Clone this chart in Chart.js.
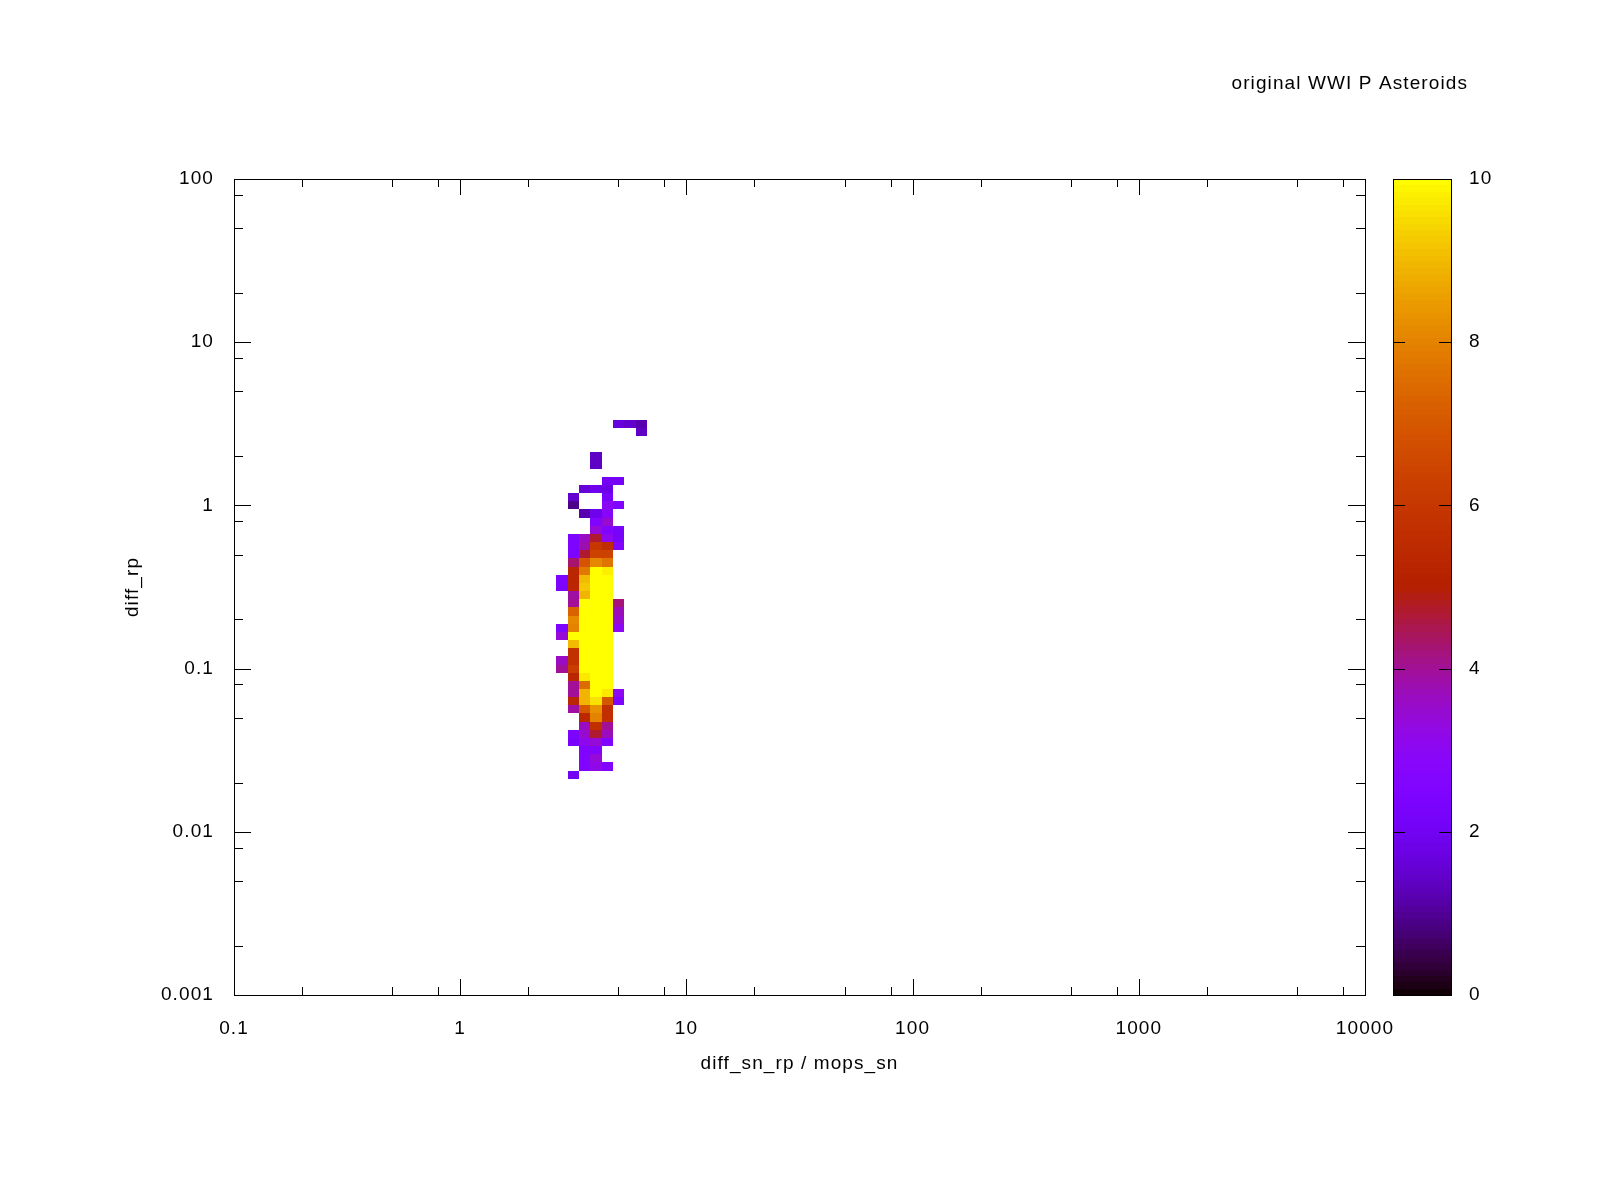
<!DOCTYPE html>
<html>
<head>
<meta charset="utf-8">
<script src="https://cdn.jsdelivr.net/npm/chart.js@4.4.0/dist/chart.umd.min.js"></script>
<style>
  html, body { margin:0; padding:0; background:#fff; }
  #wrap { position:relative; width:1600px; height:1200px; }
  #main { position:absolute; left:0; top:0; }
  #cbar { position:absolute; left:1380px; top:0; }
</style>
</head>
<body>
<div id="wrap">
  <canvas id="main" width="1600" height="1200"></canvas>
  <canvas id="cbar" width="220" height="1200"></canvas>
</div>
<script>
// bin centres, log10 of the value
const xBinLog = [0.45, 0.50, 0.55, 0.60, 0.65, 0.70, 0.75, 0.80];
const yBinLog = [0.50, 0.45, 0.40, 0.35, 0.30, 0.25, 0.20, 0.15, 0.10, 0.05, 0.00,
  -0.05, -0.10, -0.15, -0.20, -0.25, -0.30, -0.35, -0.40, -0.45, -0.50,
  -0.55, -0.60, -0.65, -0.70, -0.75, -0.80, -0.85, -0.90, -0.95, -1.00,
  -1.05, -1.10, -1.15, -1.20, -1.25, -1.30, -1.35, -1.40, -1.45, -1.50,
  -1.55, -1.60, -1.65];

const _ = null;
// one row per yBinLog entry, one column per xBinLog entry
const counts = [
  [_, _, _, _, _, 1.7, 1.5, 1.2],
  [_, _, _, _, _, _, _, 1.4],
  [_, _, _, _, _, _, _, _],
  [_, _, _, _, _, _, _, _],
  [_, _, _, 1.4, _, _, _, _],
  [_, _, _, 1.4, _, _, _, _],
  [_, _, _, _, _, _, _, _],
  [_, _, _, _, 2.1, 2.1, _, _],
  [_, _, 1.6, 1.9, 1.8, _, _, _],
  [_, 1.5, _, _, 2.2, _, _, _],
  [_, 0.9, _, _, 2.9, 2.5, _, _],
  [_, _, 1.2, 1.9, 2.8, _, _, _],
  [_, _, _, 2.5, 3.5, _, _, _],
  [_, _, _, 3.4, 2.6, 2.2, _, _],
  [_, 2.4, 3.6, 4.7, 3.1, 2.2, _, _],
  [_, 2.4, 3.8, 6.0, 5.6, 2.6, _, _],
  [_, 2.4, 4.7, 6.4, 6.4, _, _, _],
  [_, 4.3, 6.9, 8.1, 7.7, _, _, _],
  [_, 5.3, 7.8, 10, 9.8, _, _, _],
  [2.4, 5.3, 9.0, 10, 10, _, _, _],
  [2.4, 5.3, 9.2, 10, 10, _, _, _],
  [_, 3.9, 8.9, 10, 10, _, _, _],
  [_, 4.0, 10, 10, 10, 4.2, _, _],
  [_, 7.3, 10, 10, 10, 3.7, _, _],
  [_, 8.1, 10, 10, 10, 3.5, _, _],
  [2.4, 8.0, 10, 10, 10, 3.0, _, _],
  [3.4, 10, 10, 10, 10, _, _, _],
  [_, 9.0, 10, 10, 10, _, _, _],
  [_, 5.8, 10, 10, 10, _, _, _],
  [3.6, 5.8, 10, 10, 10, _, _, _],
  [4.0, 6.2, 10, 10, 10, _, _, _],
  [_, 5.3, 9.7, 10, 10, _, _, _],
  [_, 4.0, 7.5, 10, 10, _, _, _],
  [_, 4.0, 8.9, 10, 9.7, 3.0, _, _],
  [_, 5.3, 8.9, 9.6, 7.0, 2.4, _, _],
  [_, 3.9, 7.0, 8.3, 5.7, _, _, _],
  [_, _, 5.4, 8.0, 5.7, _, _, _],
  [_, _, 3.6, 5.7, 4.0, _, _, _],
  [_, 2.4, 3.5, 4.7, 3.7, _, _, _],
  [_, 2.2, 3.1, 3.4, 2.6, _, _, _],
  [_, _, 2.5, 2.6, _, _, _, _],
  [_, _, 2.5, 3.4, _, _, _, _],
  [_, _, 2.5, 3.2, 2.5, _, _, _],
  [_, 2.0, _, _, _, _, _, _]
];

const xTicks = [0.1, 1, 10, 100, 1000, 10000];
const yTicks = [0.001, 0.01, 0.1, 1, 10, 100];
const minorMult = [2, 5, 8];
const cbTicks = [0, 2, 4, 6, 8, 10];

const BIN_HALF = 0.025;   // half bin width in decades
const FONT = { family: '"Liberation Sans", Arial, sans-serif', size: 19 };
Chart.defaults.color = '#000';
Chart.defaults.font = FONT;

// gnuplot default pm3d palette (rgbformulae 7,5,15)
function palette(v) {
  const t = Math.max(0, Math.min(1, v / 10));
  const r = Math.sqrt(t), g = t * t * t, b = Math.max(0, Math.sin(2 * Math.PI * t));
  return `rgb(${Math.round(r * 255)},${Math.round(g * 255)},${Math.round(Math.min(1, b) * 255)})`;
}

const cells = [];
yBinLog.forEach((ly, r) => {
  counts[r].forEach((v, c) => {
    if (v !== null) cells.push({ x: Math.pow(10, xBinLog[c]), y: Math.pow(10, ly), v });
  });
});

// gnuplot's text is set a little wider than the plain font
const spacingPlugin = {
  id: 'spacing',
  beforeDraw(chart) { chart.ctx.letterSpacing = '1.1px'; }
};

const heatPlugin = {
  id: 'heat',
  beforeDatasetsDraw(chart) {
    const { ctx, chartArea: a, scales: { x, y } } = chart;
    const k = Math.pow(10, BIN_HALF);
    ctx.save();
    ctx.beginPath(); ctx.rect(a.left, a.top, a.right - a.left, a.bottom - a.top); ctx.clip();
    chart.data.datasets[0].data.forEach(p => {
      const x0 = Math.round(x.getPixelForValue(p.x / k));
      const x1 = Math.round(x.getPixelForValue(p.x * k));
      const y0 = Math.round(y.getPixelForValue(p.y * k));
      const y1 = Math.round(y.getPixelForValue(p.y / k));
      ctx.fillStyle = palette(p.v);
      ctx.fillRect(x0, y0, x1 - x0, y1 - y0);
    });
    ctx.restore();
  }
};

function logTicks(major) {
  const out = [];
  for (let i = 0; i < major.length - 1; i++) minorMult.forEach(m => out.push(major[i] * m));
  return out;
}

const framePlugin = {
  id: 'frame',
  afterDraw(chart) {
    const { ctx, chartArea: a, scales: { x, y } } = chart;
    ctx.save();
    ctx.strokeStyle = '#000';
    ctx.lineWidth = 1;
    ctx.beginPath();
    const hx = (v, len) => {
      const p = Math.round(x.getPixelForValue(v)) + 0.5;
      ctx.moveTo(p, a.bottom); ctx.lineTo(p, a.bottom - len);
      ctx.moveTo(p, a.top); ctx.lineTo(p, a.top + len);
    };
    const hy = (v, len) => {
      const p = Math.round(y.getPixelForValue(v)) + 0.5;
      ctx.moveTo(a.left, p); ctx.lineTo(a.left + len, p);
      ctx.moveTo(a.right, p); ctx.lineTo(a.right - len, p);
    };
    xTicks.forEach(v => hx(v, 16));
    logTicks(xTicks).forEach(v => hx(v, 8));
    yTicks.forEach(v => hy(v, 17));
    logTicks(yTicks).forEach(v => hy(v, 9));
    ctx.stroke();
    ctx.strokeRect(Math.round(a.left) + 0.5, Math.round(a.top) + 0.5,
      Math.round(a.right - a.left), Math.round(a.bottom - a.top));
    ctx.restore();
  }
};

new Chart(document.getElementById('main'), {
  type: 'scatter',
  data: { datasets: [{ data: cells, pointRadius: 0, pointHoverRadius: 0 }] },
  options: {
    responsive: false,
    animation: false,
    devicePixelRatio: 1,
    layout: { padding: { left: 0, right: 132, top: 0, bottom: 0 } },
    plugins: {
      legend: { display: false },
      tooltip: { enabled: false },
      title: {
        display: true, text: 'original WWI P Asteroids', align: 'end',
        color: '#000', font: { ...FONT, weight: 'normal' },
        padding: { top: 72, bottom: 84.2 }
      }
    },
    scales: {
      x: {
        type: 'logarithmic', min: 0.1, max: 10000,
        grid: { display: false, drawTicks: false }, border: { display: false },
        afterBuildTicks: s => { s.ticks = xTicks.map(v => ({ value: v })); },
        afterFit: s => { s.height = 205; },
        ticks: { padding: 22, maxRotation: 0, autoSkip: false, callback: v => String(v) },
        title: { display: true, text: 'diff_sn_rp / mops_sn', padding: { top: 0, bottom: 125 } }
      },
      y: {
        type: 'logarithmic', min: 0.001, max: 100,
        grid: { display: false, drawTicks: false }, border: { display: false },
        afterBuildTicks: s => { s.ticks = yTicks.map(v => ({ value: v })); },
        afterFit: s => { s.width = 234; },
        ticks: { padding: 20, autoSkip: false, callback: v => String(v) },
        title: { display: true, text: 'diff_rp', padding: { top: 121.6, bottom: 0 } }
      },
      yR: {
        type: 'linear', position: 'right', display: true,
        grid: { display: false, drawTicks: false }, border: { display: false },
        ticks: { display: false },
        afterFit: s => { s.width = 103; }
      }
    }
  },
  plugins: [spacingPlugin, heatPlugin, framePlugin]
});

const cbPlugin = {
  id: 'cbar',
  beforeDatasetsDraw(chart) {
    const { ctx, chartArea: a, scales: { y } } = chart;
    const steps = 128;
    ctx.save();
    for (let i = 0; i < steps; i++) {
      const v0 = 10 * i / steps, v1 = 10 * (i + 1) / steps;
      const p0 = Math.round(y.getPixelForValue(v0));
      const p1 = Math.round(y.getPixelForValue(v1));
      ctx.fillStyle = palette((v0 + v1) / 2);
      ctx.fillRect(a.left, p1, a.right - a.left, p0 - p1);
    }
    ctx.strokeStyle = '#000';
    ctx.lineWidth = 1;
    ctx.beginPath();
    cbTicks.forEach(v => {
      const p = Math.round(y.getPixelForValue(v)) + 0.5;
      ctx.moveTo(a.left, p); ctx.lineTo(a.left + 12, p);
      ctx.moveTo(a.right, p); ctx.lineTo(a.right - 12, p);
    });
    ctx.stroke();
    ctx.strokeRect(Math.round(a.left) + 0.5, Math.round(a.top) + 0.5,
      Math.round(a.right - a.left), Math.round(a.bottom - a.top));
    ctx.restore();
  }
};

new Chart(document.getElementById('cbar'), {
  type: 'scatter',
  data: { datasets: [] },
  options: {
    responsive: false,
    animation: false,
    devicePixelRatio: 1,
    layout: { padding: { left: 13, right: 0, top: 179, bottom: 205 } },
    plugins: { legend: { display: false }, tooltip: { enabled: false } },
    scales: {
      x: { display: false, min: 0, max: 1 },
      y: {
        position: 'right', min: 0, max: 10,
        grid: { display: false, drawTicks: false }, border: { display: false },
        afterBuildTicks: s => { s.ticks = cbTicks.map(v => ({ value: v })); },
        afterFit: s => { s.width = 149; },
        ticks: { padding: 18, callback: v => String(v) }
      }
    }
  },
  plugins: [spacingPlugin, cbPlugin]
});
</script>
</body>
</html>
